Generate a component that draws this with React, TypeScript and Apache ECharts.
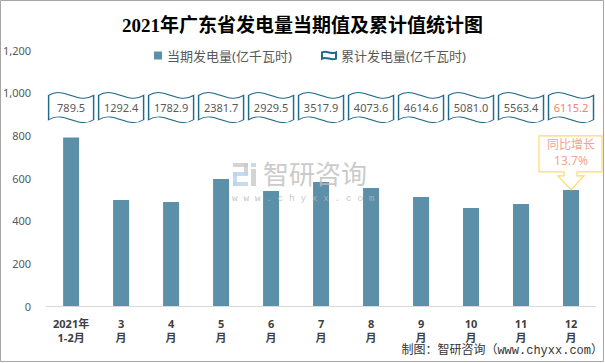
import React, { useEffect, useRef } from "react";
import * as echarts from "echarts";

const months = ["2021年\n1-2月", "3\n月", "4\n月", "5\n月", "6\n月", "7\n月", "8\n月", "9\n月", "10\n月", "11\n月", "12\n月"];
const currentOutput = [789.5, 497, 487, 595, 539, 581, 553, 511, 459, 478, 544];
const cumulativeOutput = [789.5, 1292.4, 1782.9, 2381.7, 2929.5, 3517.9, 4073.6, 4614.6, 5081.0, 5563.4, 6115.2];
const yTicks = [0, 200, 400, 600, 800, 1000, 1200];
const growthLabel = "同比增长";
const growthValue = "13.7%";

const WAVE = "path://M0,8 C35,-10 65,26 100,8 L100,52 C65,70 35,34 0,52 Z";
const SANS = "'Noto Sans', 'Noto Sans CJK SC', sans-serif";
const CUR = "当期发电量(亿千瓦时)";
const CUM = "累计发电量(亿千瓦时)";

export default function App() {
  const ref = useRef<HTMLDivElement>(null);
  useEffect(() => {
    if (!ref.current) return;
    const chart = echarts.init(ref.current, null, { renderer: "svg" });
    const option: any = {
      animation: false,
      backgroundColor: "#fff",
      title: {
        text: "2021年广东省发电量当期值及累计值统计图",
        left: "center",
        top: 11,
        textStyle: { fontSize: 19, fontWeight: "bold", color: "#000", fontFamily: "'Liberation Serif', 'Noto Sans CJK SC', serif" },
      },
      legend: [
        {
          left: 149,
          top: 44,
          itemWidth: 8,
          itemHeight: 8,
          itemGap: 5,
          textStyle: { color: "#595959", fontSize: 13, fontFamily: SANS },
          data: [{ name: CUR, icon: "rect", itemStyle: { color: "#5B90A8" } }],
        },
        {
          left: 316,
          top: 44,
          itemWidth: 14,
          itemHeight: 10,
          textStyle: { color: "#595959", fontSize: 13, fontFamily: SANS },
          data: [{ name: CUM, icon: WAVE }],
        },
      ],
      grid: { left: 43, right: 9, top: 50, bottom: 57 },
      xAxis: {
        type: "category",
        data: months,
        axisLine: { lineStyle: { color: "#d9d9d9" } },
        axisTick: { show: false },
        axisLabel: { color: "#404040", fontSize: 11, fontWeight: "bold", lineHeight: 14, margin: 10, interval: 0, fontFamily: SANS },
      },
      yAxis: {
        type: "value",
        min: yTicks[0],
        max: yTicks[yTicks.length - 1],
        interval: 200,
        axisLine: { show: false },
        axisTick: { show: false },
        splitLine: { show: false },
        axisLabel: {
          color: "#595959",
          fontSize: 11,
          margin: 15,
          fontFamily: SANS,
          formatter: (v: number) => v.toLocaleString("en-US"),
        },
      },
      series: [
        {
          name: CUR,
          type: "bar",
          data: currentOutput,
          barWidth: 16,
          itemStyle: { color: "#5B90A8" },
        },
        {
          name: CUM,
          type: "scatter",
          symbol: WAVE,
          symbolSize: [45, 30],
          itemStyle: { color: "#fff", borderColor: "#1F6B8C", borderWidth: 1.2, opacity: 1 },
          data: cumulativeOutput.map((v, i) => ({
            value: [months[i], 930, v],
            label: i === cumulativeOutput.length - 1 ? { color: "#F4846C" } : undefined,
          })),
          label: {
            show: true,
            position: "inside",
            color: "#595959",
            fontSize: 11,
            fontFamily: SANS,
            formatter: (p: any) => p.value[2].toFixed(1),
          },
          z: 3,
        },
      ],
    };
    chart.setOption(option);

    const last = currentOutput.length - 1;
    const p = chart.convertToPixel({ xAxisIndex: 0, yAxisIndex: 0 }, [months[last], currentOutput[last]]) as number[];
    const tx = p[0];
    const ty = p[1];
    const L = tx - 32, R = tx + 31, T = ty - 54, B = ty - 18;
    chart.setOption({
      graphic: [
        {
          type: "rect",
          shape: { x: 0.5, y: 0.5, width: 603, height: 361 },
          style: { fill: "none", stroke: "#a6a6a6", lineWidth: 1 },
          silent: true,
          z: 100,
        },
        {
          type: "polygon",
          shape: {
            points: [
              [L, T], [R, T], [R, B], [tx + 6, B], [tx + 6, ty - 14], [tx + 13, ty - 14],
              [tx, ty], [tx - 13, ty - 14], [tx - 7, ty - 14], [tx - 7, B], [L, B],
            ],
          },
          style: { fill: "#fff", stroke: "#FFD966", lineWidth: 1.2 },
          z: 50,
        },
        {
          type: "text",
          x: tx,
          y: ty - 45,
          style: { text: growthLabel, fill: "#F4A48C", fontSize: 12, fontFamily: SANS, align: "center", verticalAlign: "middle" },
          z: 51,
        },
        {
          type: "text",
          x: tx,
          y: ty - 29,
          style: { text: growthValue, fill: "#F4A48C", fontSize: 12, fontFamily: SANS, align: "center", verticalAlign: "middle" },
          z: 51,
        },
        // watermark logo
        { type: "rect", shape: { x: 233, y: 163, width: 15, height: 4 }, style: { fill: "#c9c9c9", opacity: 0.8 }, z: 40 },
        { type: "rect", shape: { x: 244, y: 163, width: 4, height: 12 }, style: { fill: "#c9c9c9", opacity: 0.8 }, z: 40 },
        { type: "rect", shape: { x: 233, y: 172, width: 15, height: 4 }, style: { fill: "#b9d5ec", opacity: 0.85 }, z: 40 },
        { type: "rect", shape: { x: 233, y: 172, width: 4, height: 14 }, style: { fill: "#b9d5ec", opacity: 0.85 }, z: 40 },
        { type: "rect", shape: { x: 233, y: 182, width: 15, height: 4 }, style: { fill: "#b9d5ec", opacity: 0.85 }, z: 40 },
        { type: "rect", shape: { x: 251, y: 163, width: 5, height: 4 }, style: { fill: "#b9d5ec", opacity: 0.85 }, z: 40 },
        { type: "rect", shape: { x: 251, y: 169, width: 5, height: 17 }, style: { fill: "#c9c9c9", opacity: 0.8 }, z: 40 },
        {
          type: "text",
          x: 263,
          y: 174,
          style: { text: "智研咨询", fill: "#bdbdbd", opacity: 0.8, fontSize: 26, fontFamily: SANS, verticalAlign: "middle" },
          z: 40,
        },
        {
          type: "text",
          x: 232,
          y: 198,
          style: { text: "w w w . c h y x x . c o m", fill: "#b8b8b8", opacity: 0.8, fontSize: 9.5, fontFamily: "'Liberation Mono', monospace", verticalAlign: "middle" },
          z: 40,
        },
        {
          type: "text",
          right: 2,
          top: 345,
          style: { text: "制图：智研咨询（www.chyxx.com）", fill: "#333", fontSize: 12, fontFamily: "'Liberation Mono', 'Noto Sans CJK SC', monospace" },
          z: 60,
        },
      ],
    });
    return () => chart.dispose();
  }, []);
  return <div ref={ref} style={{ position: "absolute", left: 0, top: 0, width: 605, height: 363 }} />;
}
